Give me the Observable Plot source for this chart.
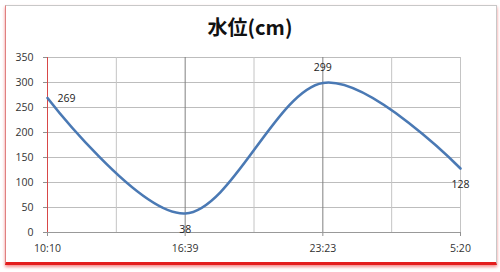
<!DOCTYPE html>
<html><head><meta charset="utf-8">
<script src="https://cdn.jsdelivr.net/npm/d3@7"></script>
<script src="https://cdn.jsdelivr.net/npm/@observablehq/plot@0.6"></script>
<style>
body{margin:0;background:#fff;}
#wrap{position:relative;width:500px;height:272px;overflow:hidden;background:#fff;}
#frame{position:absolute;left:5px;top:5px;width:490px;height:256px;border-top:1px solid #c8c8c8;border-right:1px solid #c8c8c8;border-left:1px solid #e08080;border-bottom:3px solid #e41c1c;box-shadow:0 2px 3px rgba(230,0,0,0.45);}
#title{position:absolute;top:13px;left:0;width:500px;text-align:center;font:bold 20px "Noto Sans CJK JP";color:#111;line-height:28px;}
#chart{position:absolute;left:0;top:0;}
</style></head>
<body>
<div id="wrap"><div id="frame"></div><div id="title">水位(cm)</div><div id="chart"></div></div>
<script>
const times = ["10:10", "16:39", "23:23", "5:20"];
const levels = [269, 38, 299, 128];
const yTicks = [0, 50, 100, 150, 200, 250, 300, 350];

// each time sits on every second vertical gridline
const pts = times.map((t, i) => ({x: i * 2, y: levels[i], t: String(levels[i])}));
const xMax = (times.length - 1) * 2;
const xTicks = pts.map(d => d.x);
const minorX = d3.range(1, xMax, 2);

const chart = Plot.plot({
  width: 500, height: 272,
  marginLeft: 47, marginRight: 40, marginTop: 57, marginBottom: 40,
  style: {fontFamily: "'Open Sans', 'Liberation Sans', sans-serif", fontSize: "10.5px", color: "#333", background: "transparent"},
  x: {domain: [0, xMax]},
  y: {domain: [0, 350]},
  marks: [
    Plot.ruleY(yTicks.slice(1), {x1: 0, x2: xMax, stroke: "#bdbdbd", strokeOpacity: 1}),
    Plot.ruleX(minorX.concat([xMax]), {y1: 0, y2: 350, stroke: "#c4c4c4", strokeOpacity: 1}),
    Plot.ruleX(xTicks.slice(1, -1), {y1: 0, y2: 350, stroke: "#808080", strokeOpacity: 1}),
    Plot.axisY({ticks: yTicks, tickSize: 4, tickPadding: 10, label: null, stroke: "#909090", tickFormat: d => String(d)}),
    Plot.axisX({ticks: xTicks, tickSize: 4, tickPadding: 8, label: null, stroke: "#909090", tickFormat: d => times[d / 2]}),
    Plot.ruleY([0], {x1: 0, x2: xMax, stroke: "#999"}),
    Plot.ruleX([0], {y1: 0, y2: 350, stroke: "#d84848", strokeOpacity: 1}),
    Plot.line(pts, {x: "x", y: "y", curve: d3.curveCatmullRom.alpha(0), stroke: "#4a79b4", strokeWidth: 2.6}),
    Plot.text([pts[0]], {x: "x", y: "y", text: "t", dx: 10, dy: 1, textAnchor: "start", fill: "#222"}),
    Plot.text([pts[1]], {x: "x", y: "y", text: "t", dx: 0, dy: 16, fill: "#222"}),
    Plot.text([pts[2]], {x: "x", y: "y", text: "t", dx: 0, dy: -15, fill: "#222"}),
    Plot.text([pts[3]], {x: "x", y: "y", text: "t", dx: 0, dy: 16, fill: "#222"})
  ]
});
document.getElementById("chart").appendChild(chart);
</script>
</body></html>
